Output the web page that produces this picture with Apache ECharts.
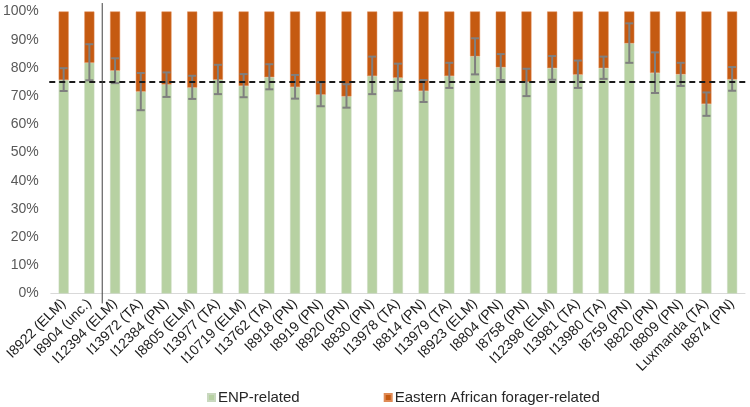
<!DOCTYPE html>
<html>
<head>
<meta charset="utf-8">
<script src="https://cdn.jsdelivr.net/npm/echarts@6/dist/echarts.min.js"></script>
<style>html,body{margin:0;padding:0;background:#fff}#c{width:750px;height:407px}</style>
</head>
<body>
<div id="c"></div>
<script>
var categories = ['I8922 (ELM)','I8904 (unc.)','I12394 (ELM)','I13972 (TA)','I12384 (PN)','I8805 (ELM)','I13977 (TA)','I10719 (ELM)','I13762 (TA)','I8918 (PN)','I8919 (PN)','I8920 (PN)','I8830 (PN)','I13978 (TA)','I8814 (PN)','I13979 (TA)','I8923 (ELM)','I8804 (PN)','I8758 (PN)','I12398 (ELM)','I13981 (TA)','I13980 (TA)','I8759 (PN)','I8820 (PN)','I8809 (PN)','Luxmanda (TA)','I8874 (PN)'];
var enpValues = [75.7,81.8,79.0,71.6,74.1,73.0,75.8,73.6,76.7,73.2,70.5,69.9,77.1,76.5,71.8,77.1,84.1,80.2,75.0,79.9,77.6,79.9,88.7,78.2,77.7,67.2,75.9];
var eafValues = [24.3,18.2,21.0,28.4,25.9,27.0,24.2,26.4,23.3,26.8,29.5,30.1,22.9,23.5,28.2,22.9,15.9,19.8,25.0,20.1,22.4,20.1,11.3,21.8,22.3,32.8,24.1];
var errLow  = [71.8,75.6,74.6,65.0,69.7,69.0,70.7,69.6,72.4,69.1,66.4,65.9,70.7,71.9,67.9,72.9,77.7,75.7,70.0,75.8,72.9,76.1,81.8,71.1,73.6,63.0,71.9];
var errHigh = [79.9,88.4,83.4,78.2,78.4,77.2,81.1,77.8,81.3,77.5,74.9,74.2,84.0,81.5,75.7,81.8,90.5,84.9,79.7,84.2,82.6,84.0,95.8,85.5,81.8,71.3,80.3];
var yTicks = [0,10,20,30,40,50,60,70,80,90,100];
var referenceLevel = 75;
var separatorAfter = 2; // vertical separator between category 2 and 3

var chart = echarts.init(document.getElementById('c'), null, {renderer:'canvas'});
var errData = categories.map(function(c,i){ return [i, errLow[i], errHigh[i]]; });
var n = categories.length;

chart.setOption({
  animation: false,
  textStyle: {fontFamily: 'Liberation Sans, Arial, sans-serif'},
  grid: {left: 49, right: 5, top: 11.5, bottom: 113.5, containLabel: false},
  legend: {
    bottom: -3, left: 202, itemWidth: 7, itemHeight: 7, itemGap: 84,
    icon: 'rect',
    textStyle: {fontSize: 15, color: '#262626', padding: [0,0,0,-2]},
    data: ['ENP-related', 'Eastern African forager-related']
  },
  xAxis: [{
    type: 'category', data: categories,
    axisLine: {lineStyle: {color: '#d9d9d9', width: 1}},
    axisTick: {show: false},
    axisLabel: {rotate: 45, fontSize: 14, color: '#1a1a1a', interval: 0, margin: 8}
  }, {
    type: 'value', min: -0.5, max: n - 0.5, show: false
  }],
  yAxis: {
    type: 'value', min: 0, max: 100, interval: 10,
    axisLabel: {formatter: '{value}%', fontSize: 14, color: '#595959', margin: 12},
    axisLine: {show: false}, axisTick: {show: false},
    splitLine: {show: false}
  },
  series: [{
    name: 'ENP-related', type: 'bar', stack: 's', data: enpValues, barWidth: 10,
    itemStyle: {color: '#b7d1a2', borderColor: '#c9d8bf', borderWidth: 0.5}
  }, {
    name: 'Eastern African forager-related', type: 'bar', stack: 's', data: eafValues, barWidth: 10,
    itemStyle: {color: '#c55a11', borderColor: '#e08a55', borderWidth: 0.5}
  }, {
    type: 'custom', name: 'err', data: errData, z: 5,
    encode: {x: 0, y: [1, 2]},
    renderItem: function(params, api){
      var x = api.value(0);
      var lo = api.coord([x, api.value(1)]);
      var hi = api.coord([x, api.value(2)]);
      var hw = 4;
      var st = {stroke: '#7f7f7f', lineWidth: 2};
      return {type: 'group', children: [
        {type: 'line', shape: {x1: lo[0], y1: lo[1], x2: hi[0], y2: hi[1]}, style: st},
        {type: 'line', shape: {x1: lo[0]-hw, y1: lo[1], x2: lo[0]+hw, y2: lo[1]}, style: st},
        {type: 'line', shape: {x1: hi[0]-hw, y1: hi[1], x2: hi[0]+hw, y2: hi[1]}, style: st}
      ]};
    }
  }, {
    type: 'line', xAxisIndex: 1, data: [[-0.56, referenceLevel], [n - 0.5 + 0.2, referenceLevel]],
    symbol: 'none', clip: false, silent: true, z: 6,
    lineStyle: {color: '#1a1a1a', width: 2, type: [6, 4]}
  }, {
    type: 'line', xAxisIndex: 1, data: [[separatorAfter - 0.5, -3.5], [separatorAfter - 0.5, 103]],
    symbol: 'none', clip: false, silent: true, z: 6,
    lineStyle: {color: '#404040', width: 1}
  }]
});
</script>
</body>
</html>
